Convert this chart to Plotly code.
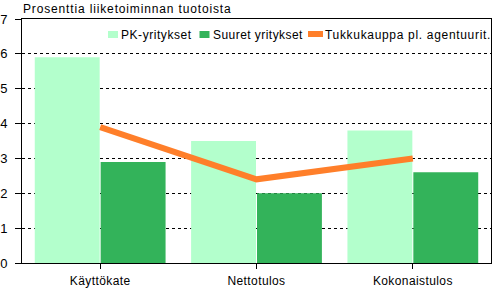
import plotly.graph_objects as go

categories = ["Käyttökate", "Nettotulos", "Kokonaistulos"]
series_names = ["PK-yritykset", "Suuret yritykset", "Tukkukauppa pl. agentuurit."]
pk_values = [5.9, 3.5, 3.8]
suuret_values = [2.9, 2.0, 2.6]
tukku_values = [3.9, 2.4, 3.0]
y_title = "Prosenttia liiketoiminnan tuotoista"

colors = ["#b3ffcc", "#33b35a", "#ff7f2a"]
FONT = "Liberation Sans, Arial, sans-serif"

W, H = 493, 290
ML, MR, MT, MB = 22, 2, 19, 27
PW, PH = W - ML - MR, H - MT - MB


def px_x(p):
    return (p - ML) / PW


def px_y(p):
    return (H - MB - p) / PH


def spaced(t, ls):
    return '<span style="letter-spacing:%spx">%s</span>' % (ls, t)


fig = go.Figure()
fig.add_trace(go.Bar(x=categories, y=pk_values, name=series_names[0],
                     marker=dict(color=colors[0], line=dict(width=0))))
fig.add_trace(go.Bar(x=categories, y=suuret_values, name=series_names[1],
                     marker=dict(color=colors[1], line=dict(width=0))))
fig.add_trace(go.Scatter(x=categories, y=tukku_values, name=series_names[2],
                         mode="lines", line=dict(color=colors[2], width=6)))

shapes = []
annotations = []
# custom legend
leg_y_top, leg_y_bot, leg_mid = 31, 38, 34.5
shapes.append(dict(type="rect", xref="paper", yref="paper",
                   x0=px_x(108), x1=px_x(118), y0=px_y(leg_y_bot), y1=px_y(leg_y_top),
                   fillcolor=colors[0], line=dict(width=0)))
shapes.append(dict(type="rect", xref="paper", yref="paper",
                   x0=px_x(199.5), x1=px_x(209.5), y0=px_y(leg_y_bot), y1=px_y(leg_y_top),
                   fillcolor=colors[1], line=dict(width=0)))
shapes.append(dict(type="line", xref="paper", yref="paper",
                   x0=px_x(308), x1=px_x(323), y0=px_y(34), y1=px_y(34),
                   line=dict(color=colors[2], width=6)))
for name, xp, ls in zip(series_names, [119.5, 211.5, 324], [0.55, 0.45, 0.68]):
    annotations.append(dict(text=spaced(name, ls), xref="paper", yref="paper",
                            x=px_x(xp), y=px_y(leg_mid),
                            xanchor="left", yanchor="middle", showarrow=False,
                            font=dict(family=FONT, size=12, color="black"), borderpad=0))

annotations.append(dict(text=spaced(y_title, 0.85), xref="paper", yref="paper", x=0, y=px_y(17),
                        xanchor="left", yanchor="bottom", showarrow=False,
                        font=dict(family=FONT, size=12, color="black"), borderpad=0))

fig.update_layout(
    width=W, height=H,
    margin=dict(l=ML, r=MR, t=MT, b=MB),
    paper_bgcolor="white", plot_bgcolor="white",
    font=dict(family=FONT, size=12, color="black"),
    barmode="group", bargap=0.157, bargroupgap=0.015,
    showlegend=False,
    shapes=shapes, annotations=annotations,
)
fig.update_xaxes(showline=True, linecolor="black", linewidth=1, mirror=True,
                 ticks="outside", ticklen=5, tickcolor="black", showgrid=False,
                 tickvals=categories, ticktext=[spaced(c, 0.4) for c in categories],
                 ticklabelstandoff=2, automargin=False,
                 tickfont=dict(family=FONT, size=12, color="black"))
fig.update_yaxes(range=[0, 7], dtick=1, showline=True, linecolor="black", linewidth=1,
                 mirror=True, ticks="outside", ticklen=6, tickcolor="black",
                 showgrid=True, gridcolor="black", gridwidth=1, griddash="3px,3px",
                 zeroline=False, ticklabelstandoff=5, automargin=False,
                 tickfont=dict(family=FONT, size=13, color="black"))

fig.write_html("out.html")
